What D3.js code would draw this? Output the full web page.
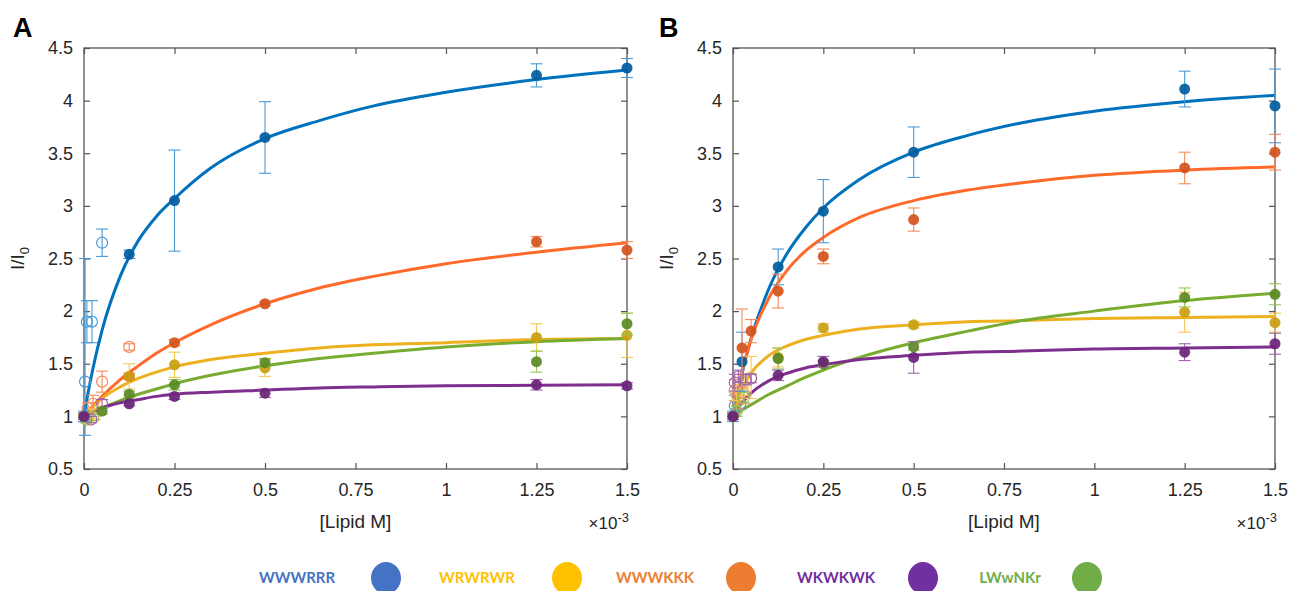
<!DOCTYPE html>
<html>
  <head>
    <meta charset="utf-8">
    <title>I/I0 vs lipid</title>
    <script src="https://d3js.org/d3.v7.min.js"></script>
    <style>
      body { margin: 0; background: #fff; }
      svg text { font-family: "Liberation Sans", Arial, sans-serif; }
      .legend text { font-family: Lato, "Open Sans", sans-serif; font-weight: bold; }
    </style>
  </head>
  <body>
    <svg id="chart" width="1290" height="591"></svg>
    <script>
      // axis ticks (x in units of 1e-3 M)
      var xTicks = [0, 0.25, 0.5, 0.75, 1, 1.25, 1.5];
      var yTicks = [0.5, 1, 1.5, 2, 2.5, 3, 3.5, 4, 4.5];
      var peptides = ["WWWRRR", "WRWRWR", "WWWKKK", "WKWKWK", "LWwNKr"];
      var legendColors = ["#4472C4", "#FFC000", "#ED7D31", "#7030A0", "#70AD47"];

      // fitted curves, read at these x values
      var fitX = [0, 0.01, 0.025, 0.05, 0.1, 0.15, 0.2, 0.25, 0.35, 0.5, 0.65, 0.8, 1.0, 1.25, 1.5];
      var fitA_WWWRRR = [1.0, 1.20, 1.46, 1.82, 2.33, 2.67, 2.90, 3.07, 3.36, 3.64, 3.81, 3.95, 4.08, 4.20, 4.29];
      var fitA_WWWKKK = [1.0, 1.04, 1.10, 1.19, 1.35, 1.48, 1.60, 1.70, 1.87, 2.07, 2.22, 2.33, 2.45, 2.56, 2.65];
      var fitA_WRWRWR = [1.0, 1.04, 1.09, 1.17, 1.28, 1.36, 1.42, 1.47, 1.54, 1.60, 1.65, 1.68, 1.70, 1.73, 1.74];
      var fitA_LWwNKr = [1.0, 1.02, 1.04, 1.08, 1.15, 1.21, 1.26, 1.31, 1.39, 1.48, 1.55, 1.60, 1.66, 1.71, 1.74];
      var fitA_WKWKWK = [1.0, 1.02, 1.04, 1.08, 1.13, 1.16, 1.19, 1.21, 1.23, 1.25, 1.27, 1.28, 1.29, 1.295, 1.30];
      var fitB_WWWRRR = [1.0, 1.18, 1.41, 1.74, 2.22, 2.55, 2.79, 2.98, 3.25, 3.51, 3.67, 3.79, 3.90, 3.99, 4.05];
      var fitB_WWWKKK = [1.0, 1.18, 1.42, 1.73, 2.13, 2.39, 2.57, 2.70, 2.89, 3.05, 3.15, 3.22, 3.29, 3.34, 3.37];
      var fitB_WRWRWR = [1.0, 1.12, 1.26, 1.41, 1.58, 1.67, 1.73, 1.77, 1.83, 1.87, 1.90, 1.91, 1.93, 1.94, 1.95];
      var fitB_LWwNKr = [1.0, 1.02, 1.06, 1.11, 1.21, 1.29, 1.37, 1.44, 1.56, 1.70, 1.81, 1.91, 2.00, 2.10, 2.17];
      var fitB_WKWKWK = [1.0, 1.06, 1.13, 1.22, 1.34, 1.41, 1.46, 1.49, 1.54, 1.58, 1.61, 1.62, 1.64, 1.65, 1.66];

      // measured points [x, I/I0, error] or [x, I/I0, error below, error above]
      var ptsA_WWWRRR = [[0, 1.0, 0.05], [0.125, 2.54, 0.04], [0.25, 3.05, 0.48], [0.5, 3.65, 0.34], [1.25, 4.24, 0.11], [1.5, 4.31, 0.09]];
      var ptsA_WWWKKK = [[0, 1.0, 0.03], [0.125, 1.38, 0.03], [0.25, 1.70, 0.03], [0.5, 2.07, 0.02], [1.25, 2.66, 0.05], [1.5, 2.58, 0.08]];
      var ptsA_WRWRWR = [[0, 1.0, 0.03], [0.125, 1.38, 0.12], [0.25, 1.49, 0.12], [0.5, 1.46, 0.08], [1.25, 1.75, 0.13], [1.5, 1.77, 0.21]];
      var ptsA_LWwNKr = [[0, 1.0, 0.03], [0.05, 1.05, 0.03], [0.125, 1.21, 0.03], [0.25, 1.30, 0.05], [0.5, 1.51, 0.04], [1.25, 1.52, 0.10], [1.5, 1.88, 0.10]];
      var ptsA_WKWKWK = [[0, 1.0, 0.03], [0.125, 1.12, 0.02], [0.25, 1.19, 0.03], [0.5, 1.22, 0.04], [1.25, 1.30, 0.05], [1.5, 1.29, 0.03]];
      var ptsB_WWWRRR = [[0, 1.0, 0.05], [0.025, 1.52, 0.28], [0.125, 2.42, 0.17], [0.25, 2.95, 0.30], [0.5, 3.51, 0.24], [1.25, 4.11, 0.17], [1.5, 3.95, 0.35]];
      var ptsB_WWWKKK = [[0, 1.0, 0.03], [0.025, 1.65, 0.37], [0.05, 1.81, 0.11], [0.125, 2.19, 0.16], [0.25, 2.52, 0.07], [0.5, 2.87, 0.11], [1.25, 3.36, 0.15], [1.5, 3.51, 0.17]];
      var ptsB_WRWRWR = [[0, 1.0, 0.03], [0.125, 1.56, 0.09], [0.25, 1.84, 0.04], [0.5, 1.87, 0.03], [1.25, 1.99, 0.19], [1.5, 1.89, 0.09]];
      var ptsB_LWwNKr = [[0, 1.0, 0.03], [0.125, 1.55, 0.10], [0.25, 1.50, 0.03], [0.5, 1.66, 0.03], [1.25, 2.13, 0.09], [1.5, 2.16, 0.10]];
      var ptsB_WKWKWK = [[0, 1.0, 0.03], [0.125, 1.39, 0.05], [0.25, 1.52, 0.05], [0.5, 1.56, 0.15], [1.25, 1.61, 0.08], [1.5, 1.69, 0.10]];

      // open-circle points at low lipid
      var openA_WWWRRR = [[0.003, 1.33, 0.51, 1.17], [0.008, 1.9, 0.2], [0.022, 1.9, 0.2], [0.05, 2.65, 0.13]];
      var openA_WWWKKK = [[0.01, 1.08, 0.05], [0.025, 1.12, 0.08], [0.05, 1.33, 0.10], [0.125, 1.66, 0.03]];
      var openA_WRWRWR = [[0.01, 0.97, 0.03], [0.03, 1.02, 0.05]];
      var openA_LWwNKr = [[0.005, 0.97, 0.03], [0.025, 0.99, 0.03]];
      var openA_WKWKWK = [[0.02, 0.97, 0.03], [0.05, 1.12, 0.04]];
      var openB_WWWRRR = [[0.005, 1.10, 0.10], [0.02, 1.12, 0.05]];
      var openB_WWWKKK = [[0.005, 1.25, 0.10], [0.015, 1.15, 0.08], [0.03, 1.22, 0.10]];
      var openB_WRWRWR = [[0.01, 1.20, 0.05], [0.03, 1.30, 0.10], [0.05, 1.37, 0.20]];
      var openB_LWwNKr = [[0.01, 1.05, 0.05], [0.03, 1.18, 0.05]];
      var openB_WKWKWK = [[0.005, 1.32, 0.08], [0.015, 1.38, 0.06], [0.035, 1.35, 0.05], [0.05, 1.36, 0.04]];

      // colours: curve, marker, error bar
      var styles = {
        WWWRRR: ["#0072BD", "#005C9E", "#4A9AD6"],
        WWWKKK: ["#FF6A2A", "#D3541C", "#F58A5A"],
        WRWRWR: ["#EDB120", "#C9A012", "#F2C84E"],
        LWwNKr: ["#77AC30", "#5A8A24", "#97C45A"],
        WKWKWK: ["#7E2F8E", "#6A2478", "#A064AE"]
      };
      var drawOrder = ["WWWRRR", "WWWKKK", "WRWRWR", "LWwNKr", "WKWKWK"];

      var panels = [
        { label: "A", x0: 84, x1: 627, lx: 13,
          fits: { WWWRRR: fitA_WWWRRR, WWWKKK: fitA_WWWKKK, WRWRWR: fitA_WRWRWR, LWwNKr: fitA_LWwNKr, WKWKWK: fitA_WKWKWK },
          pts: { WWWRRR: ptsA_WWWRRR, WWWKKK: ptsA_WWWKKK, WRWRWR: ptsA_WRWRWR, LWwNKr: ptsA_LWwNKr, WKWKWK: ptsA_WKWKWK },
          open: { WWWRRR: openA_WWWRRR, WWWKKK: openA_WWWKKK, WRWRWR: openA_WRWRWR, LWwNKr: openA_LWwNKr, WKWKWK: openA_WKWKWK } },
        { label: "B", x0: 733, x1: 1275, lx: 659,
          fits: { WWWRRR: fitB_WWWRRR, WWWKKK: fitB_WWWKKK, WRWRWR: fitB_WRWRWR, LWwNKr: fitB_LWwNKr, WKWKWK: fitB_WKWKWK },
          pts: { WWWRRR: ptsB_WWWRRR, WWWKKK: ptsB_WWWKKK, WRWRWR: ptsB_WRWRWR, LWwNKr: ptsB_LWwNKr, WKWKWK: ptsB_WKWKWK },
          open: { WWWRRR: openB_WWWRRR, WWWKKK: openB_WWWKKK, WRWRWR: openB_WRWRWR, LWwNKr: openB_LWwNKr, WKWKWK: openB_WKWKWK } }
      ];

      var plotTop = 48, plotBottom = 469;
      var svg = d3.select("#chart");

      function lo(d) { return d[1] - d[2]; }
      function hi(d) { return d[1] + (d.length > 3 ? d[3] : d[2]); }

      panels.forEach(function(p) {
        var x = d3.scaleLinear().domain([0, 1.5]).range([p.x0, p.x1]);
        var y = d3.scaleLinear().domain([0.5, 4.5]).range([plotBottom, plotTop]);
        var g = svg.append("g");

        // box
        g.append("rect")
          .attr("x", p.x0).attr("y", plotTop)
          .attr("width", p.x1 - p.x0).attr("height", plotBottom - plotTop)
          .attr("fill", "none").attr("stroke", "#555").attr("stroke-width", 1.3);

        // inward ticks, mirrored
        var xAxis = g.append("g").attr("transform", "translate(0," + plotBottom + ")")
          .call(d3.axisBottom(x).tickValues(xTicks).tickSizeInner(-6).tickSizeOuter(0).tickPadding(14)
            .tickFormat(function(d) { return d3.format("~g")(d); }));
        var yAxis = g.append("g").attr("transform", "translate(" + p.x0 + ",0)")
          .call(d3.axisLeft(y).tickValues(yTicks).tickSizeInner(-6).tickSizeOuter(0).tickPadding(11)
            .tickFormat(function(d) { return d3.format("~g")(d); }));
        g.append("g").attr("transform", "translate(0," + plotTop + ")")
          .call(d3.axisTop(x).tickValues(xTicks).tickSizeInner(-6).tickSizeOuter(0).tickFormat(""));
        g.append("g").attr("transform", "translate(" + p.x1 + ",0)")
          .call(d3.axisRight(y).tickValues(yTicks).tickSizeInner(-6).tickSizeOuter(0).tickFormat(""));
        g.selectAll(".domain").remove();
        g.selectAll(".tick line").attr("stroke", "#555").attr("stroke-width", 1.2);
        xAxis.selectAll("text").attr("font-size", 18).attr("fill", "#262626");
        yAxis.selectAll("text").attr("font-size", 18).attr("fill", "#262626");

        // labels
        g.append("text").attr("x", (p.x0 + p.x1) / 2).attr("y", 528)
          .attr("text-anchor", "middle").attr("font-size", 19).attr("fill", "#262626").text("[Lipid M]");
        var ex = g.append("text").attr("x", p.x1 + 2).attr("y", 529)
          .attr("text-anchor", "end").attr("font-size", 17).attr("fill", "#262626");
        ex.append("tspan").text("\u00d710");
        ex.append("tspan").attr("dy", -7).attr("font-size", 13).text("-3");
        var yl = g.append("text")
          .attr("transform", "translate(" + (p.x0 - 60) + "," + ((plotTop + plotBottom) / 2) + ") rotate(-90)")
          .attr("text-anchor", "middle").attr("font-size", 19).attr("fill", "#262626");
        yl.append("tspan").text("I/I");
        yl.append("tspan").attr("dy", 5).attr("font-size", 13).text("0");
        g.append("text").attr("x", p.lx).attr("y", 37)
          .attr("font-size", 27).attr("font-weight", "bold").attr("fill", "#000").text(p.label);

        // fitted curves
        var line = d3.line()
          .x(function(d, i) { return x(fitX[i]); })
          .y(function(d) { return y(d); })
          .curve(d3.curveMonotoneX);
        drawOrder.forEach(function(k) {
          g.append("path").datum(p.fits[k])
            .attr("d", line).attr("fill", "none")
            .attr("stroke", styles[k][0]).attr("stroke-width", 3);
        });

        function errorBars(sel, data, color) {
          var eb = sel.selectAll(null).data(data).enter().append("g")
            .attr("stroke", color).attr("stroke-width", 1.1);
          eb.append("line")
            .attr("x1", function(d) { return x(d[0]); }).attr("x2", function(d) { return x(d[0]); })
            .attr("y1", function(d) { return y(lo(d)); }).attr("y2", function(d) { return y(hi(d)); });
          eb.append("line")
            .attr("x1", function(d) { return x(d[0]) - 6; }).attr("x2", function(d) { return x(d[0]) + 6; })
            .attr("y1", function(d) { return y(lo(d)); }).attr("y2", function(d) { return y(lo(d)); });
          eb.append("line")
            .attr("x1", function(d) { return x(d[0]) - 6; }).attr("x2", function(d) { return x(d[0]) + 6; })
            .attr("y1", function(d) { return y(hi(d)); }).attr("y2", function(d) { return y(hi(d)); });
        }

        // open circles
        drawOrder.forEach(function(k) {
          var og = g.append("g");
          errorBars(og, p.open[k], styles[k][2]);
          og.selectAll("circle").data(p.open[k]).enter().append("circle")
            .attr("cx", function(d) { return x(d[0]); })
            .attr("cy", function(d) { return y(d[1]); })
            .attr("r", 5.5).attr("fill", "none")
            .attr("stroke", styles[k][2]).attr("stroke-width", 1.2);
        });

        // filled points
        drawOrder.forEach(function(k) {
          var fg = g.append("g");
          errorBars(fg, p.pts[k], styles[k][2]);
          fg.selectAll("circle").data(p.pts[k]).enter().append("circle")
            .attr("cx", function(d) { return x(d[0]); })
            .attr("cy", function(d) { return y(d[1]); })
            .attr("r", 5.5).attr("fill", styles[k][1]).attr("fill-opacity", 0.92);
        });
      });

      // legend
      var legendTextX = [297, 477, 655, 836, 1010];
      var legendDotX = [386, 567, 741, 923, 1087];
      var legend = svg.append("g").attr("class", "legend");
      legend.selectAll("text").data(peptides).enter().append("text")
        .attr("x", function(d, i) { return legendTextX[i]; })
        .attr("y", 583).attr("text-anchor", "middle").attr("font-size", 15)
        .attr("fill", function(d, i) { return legendColors[i]; })
        .text(function(d) { return d; });
      legend.selectAll("ellipse").data(peptides).enter().append("ellipse")
        .attr("cx", function(d, i) { return legendDotX[i]; })
        .attr("cy", 578).attr("rx", 15).attr("ry", 16)
        .attr("fill", function(d, i) { return legendColors[i]; });
    </script>
  </body>
</html>
